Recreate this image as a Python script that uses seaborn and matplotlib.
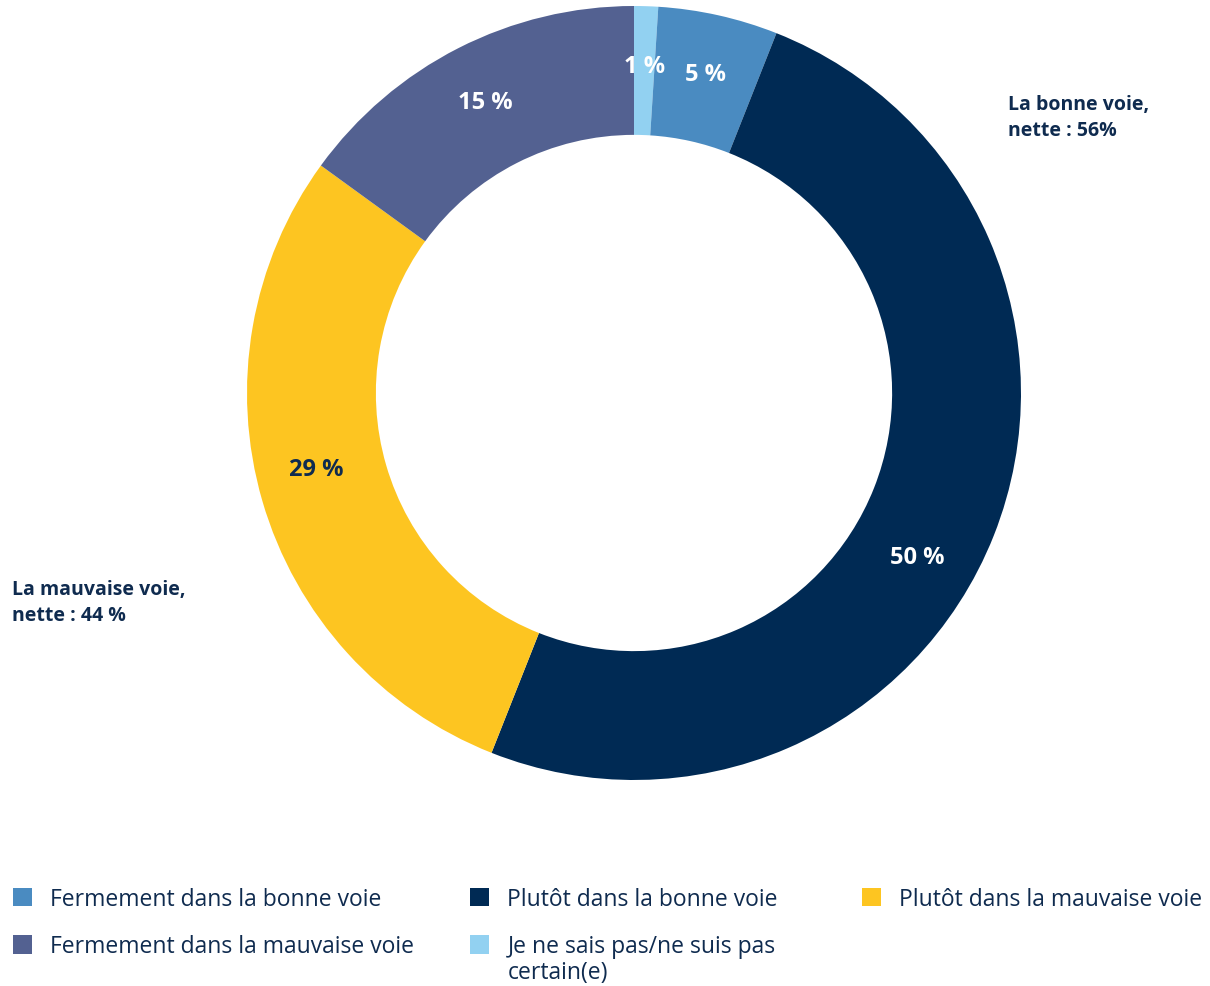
import matplotlib
matplotlib.use("Agg")
import matplotlib.pyplot as plt
from matplotlib.patches import Patch
import numpy as np
import seaborn as sns

# Slice order around the ring, clockwise from 12 o'clock
categories = [
    "Je ne sais pas/ne suis pas",
    "Fermement dans la bonne voie",
    "Plutôt dans la bonne voie",
    "Plutôt dans la mauvaise voie",
    "Fermement dans la mauvaise voie",
]
category_wrap = {0: "certain(e)"}
values = [1, 5, 50, 29, 15]
value_labels = ["1 %", "5 %", "50 %", "29 %", "15 %"]
colors = ["#92D1F1", "#4A8BC1", "#002A54", "#FDC521", "#536191"]
label_colors = ["white", "white", "white", "#0F2B4F", "white"]

# Legend columns (left to right), each listing slice indices top to bottom
legend_columns = [[1, 4], [2, 0], [3]]
legend_x = [13, 470, 862]  # pixel x of each column's swatch

net_good = "La bonne voie,\nnette : 56%"
net_bad = "La mauvaise voie,\nnette : 44 %"

sns.set_theme(style="white")
plt.rcParams["font.family"] = ["Open Sans", "DejaVu Sans"]

TEXT = "#0F2B4F"
W, H, DPI = 1210, 987, 100
fig = plt.figure(figsize=(W / DPI, H / DPI), dpi=DPI)
ax = fig.add_axes([0, 0, 1, 1])

cx, cy, R = 634, 394, 387  # ring centre and outer radius in pixels
wedges, _ = ax.pie(
    values,
    colors=colors,
    startangle=90,
    counterclock=False,
    radius=1.0,
    wedgeprops=dict(width=0.333, edgecolor="none"),
)
ax.set_aspect("auto")
ax.set_xlim(-cx / R, (W - cx) / R)
ax.set_ylim(-(H - cy) / R, cy / R)
ax.axis("off")

# Percentage labels inside the ring (a couple nudged off the wedge midline)
angle_override = {2: -30.0, 3: 193.5}
for i, w in enumerate(wedges):
    ang = angle_override.get(i, (w.theta1 + w.theta2) / 2)
    r = 0.845
    x = r * np.cos(np.radians(ang))
    y = r * np.sin(np.radians(ang))
    ax.text(x, y, value_labels[i], ha="center", va="center",
            fontsize=17, fontweight="bold", color=label_colors[i])

# Net annotations
ax.text((1008 - cx) / R, (cy - 95) / R, net_good, ha="left", va="top",
        fontsize=14, fontweight="bold", color=TEXT, linespacing=1.42)
ax.text((12 - cx) / R, (cy - 580) / R, net_bad, ha="left", va="top",
        fontsize=14, fontweight="bold", color=TEXT, linespacing=1.42)

# Legend, one block per column
FS = 16.5
legends = []
for col, x0 in zip(legend_columns, legend_x):
    handles = [Patch(facecolor=colors[i], edgecolor="none") for i in col]
    labels = [categories[i] for i in col]
    leg = fig.legend(
        handles, labels,
        ncol=1,
        loc="upper left",
        bbox_to_anchor=(x0 / W, 1 - 888 / H),
        frameon=False,
        fontsize=FS,
        labelcolor=TEXT,
        handlelength=0.85,
        handleheight=0.85,
        handletextpad=0.78,
        labelspacing=1.02,
        borderpad=0,
        borderaxespad=0,
    )
    legends.append((leg, col))

# Second line of wrapped legend labels
fig.canvas.draw()
renderer = fig.canvas.get_renderer()
for leg, col in legends:
    for txt, i in zip(leg.get_texts(), col):
        if i in category_wrap:
            bb = txt.get_window_extent(renderer)
            fig.text(bb.x0 / W, (bb.y0 - 26) / H, category_wrap[i],
                     ha="left", va="bottom", fontsize=FS, color=TEXT)

fig.savefig("out.png", dpi=DPI, facecolor="white")
